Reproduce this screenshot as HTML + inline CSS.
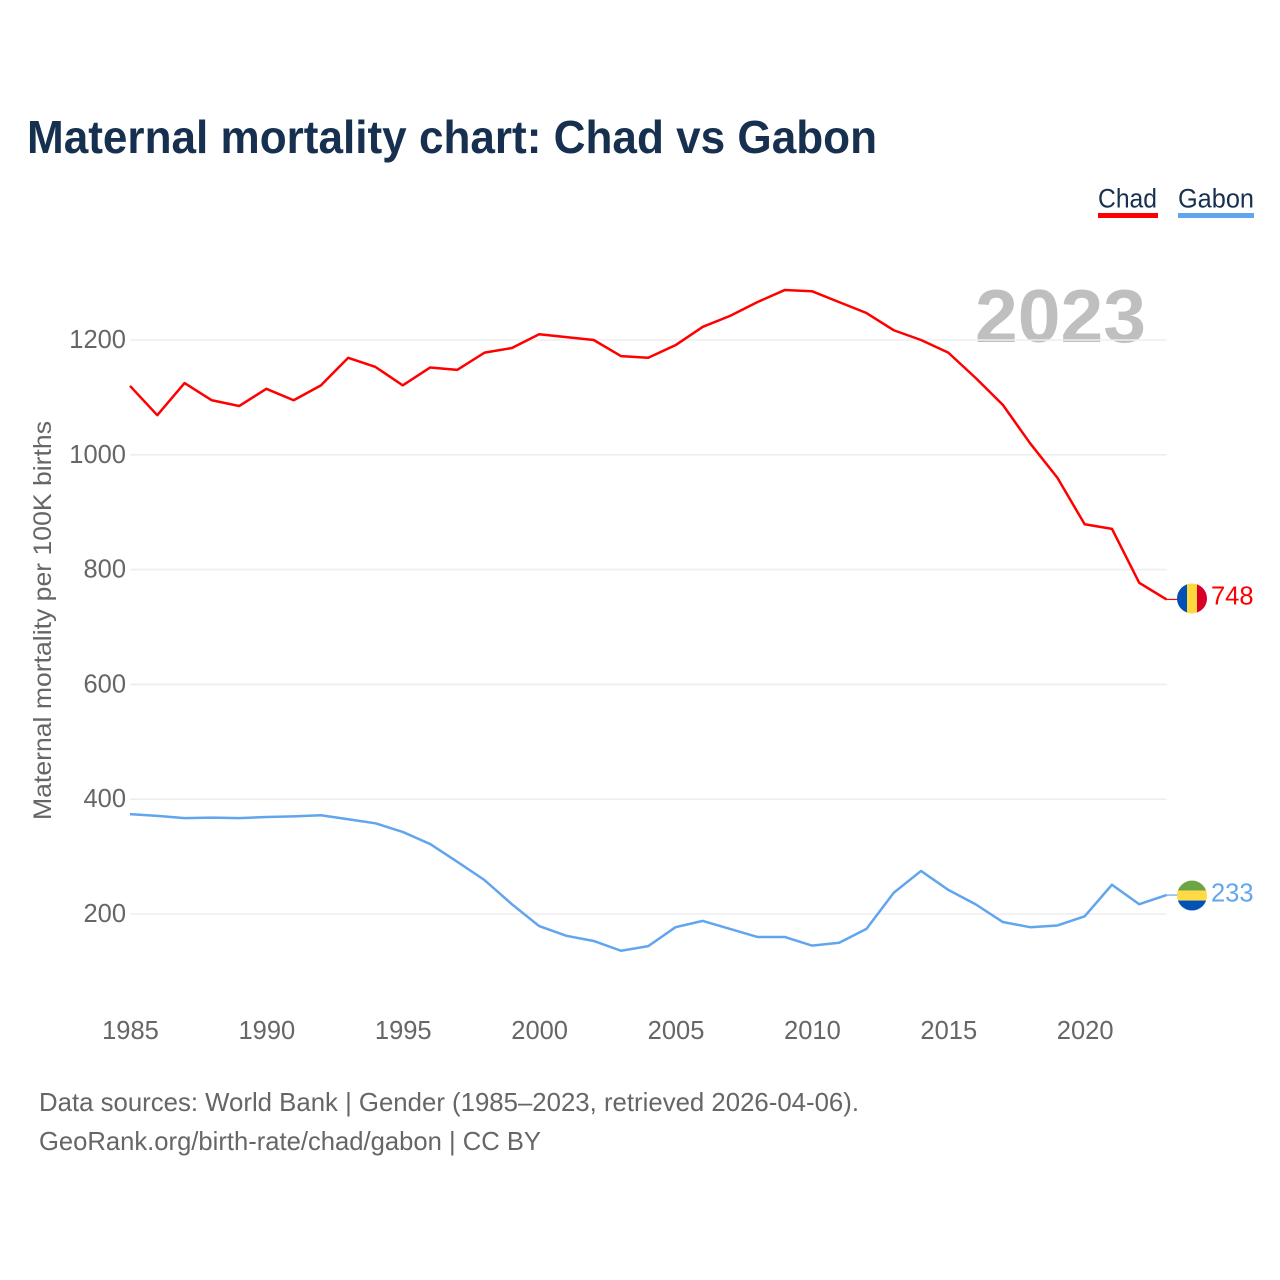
<!DOCTYPE html>
<html lang="en">
<head>
<meta charset="utf-8">
<title>Maternal mortality chart: Chad vs Gabon</title>
<style>
html,body{margin:0;padding:0;background:#fff;width:1280px;height:1280px;overflow:hidden}
svg{display:block}
text{font-family:"Liberation Sans",sans-serif}
</style>
</head>
<body>
<svg id="chart" xmlns="http://www.w3.org/2000/svg" width="1280" height="1280" viewBox="0 0 1280 1280">
  <defs>
    <clipPath id="flag-clip-chad"><circle id="clip-chad" cx="1192" cy="598" r="15"></circle></clipPath>
    <clipPath id="flag-clip-gabon"><circle id="clip-gabon" cx="1192" cy="894" r="15"></circle></clipPath>
  </defs>
  <text x="27" y="153" font-size="46" font-weight="700" fill="#17304f" textLength="850" lengthAdjust="spacingAndGlyphs">Maternal mortality chart: Chad vs Gabon</text>
  <g>
    <g>
      <text x="1098" y="207.5" font-size="27" fill="#17304f" textLength="59" lengthAdjust="spacingAndGlyphs">Chad</text>
      <rect x="1098" y="213" width="60" height="5" fill="#ff0000"></rect>
    </g>
    <g>
      <text x="1178" y="207.5" font-size="27" fill="#17304f" textLength="76" lengthAdjust="spacingAndGlyphs">Gabon</text>
      <rect x="1178" y="213" width="76" height="5" fill="#60a5ee"></rect>
    </g>
  </g>
  <text x="975" y="342" font-size="75" font-weight="700" fill="#bfbfbf" textLength="171" lengthAdjust="spacingAndGlyphs">2023</text>
  <g id="grid"></g>
  <g id="ytick"></g>
  <g id="xtick"></g>
  <text transform="translate(51,820) rotate(-90)" x="0" y="0" font-size="25" fill="#666666" textLength="399" lengthAdjust="spacingAndGlyphs">Maternal mortality per 100K births</text>
  <g id="series"></g>
  <g id="flag-chad" clip-path="url(#flag-clip-chad)">
    <rect id="fc1" x="1177" width="10" height="30" fill="#0050b5"></rect>
    <rect id="fc2" x="1187" width="10" height="30" fill="#ffd83d"></rect>
    <rect id="fc3" x="1197" width="10" height="30" fill="#d80027"></rect>
  </g>
  <g id="flag-gabon" clip-path="url(#flag-clip-gabon)">
    <rect id="fg1" x="1177" width="30" height="10" fill="#6da544"></rect>
    <rect id="fg2" x="1177" width="30" height="10" fill="#ffda44"></rect>
    <rect id="fg3" x="1177" width="30" height="10" fill="#0052b4"></rect>
  </g>
  <text id="label-chad" x="1211" font-size="25.5" fill="#ff0000">748</text>
  <text id="label-gabon" x="1211" font-size="25.5" fill="#60a5ee">233</text>
  <g>
    <text x="39" y="1111" font-size="26" fill="#666666" textLength="820" lengthAdjust="spacingAndGlyphs">Data sources: World Bank | Gender (1985–2023, retrieved 2026-04-06).</text>
    <text x="39" y="1150" font-size="26" fill="#666666" textLength="502" lengthAdjust="spacingAndGlyphs">GeoRank.org/birth-rate/chad/gabon | CC BY</text>
  </g>
</svg>
<script>
var years = [1985,1986,1987,1988,1989,1990,1991,1992,1993,1994,1995,1996,1997,1998,1999,2000,2001,2002,2003,2004,2005,2006,2007,2008,2009,2010,2011,2012,2013,2014,2015,2016,2017,2018,2019,2020,2021,2022,2023];
var chadValues = [1120,1069,1125,1095,1085,1115,1095,1121,1169,1153,1121,1152,1148,1178,1186,1210,1205,1200,1172,1169,1191,1223,1242,1266,1287,1285,1266,1247,1217,1200,1178,1134,1087,1020,960,879,871,777,748];
var gabonValues = [374,371,367,368,367,369,370,372,365,358,343,322,291,259,217,179,162,153,136,144,177,188,174,160,160,145,150,174,237,275,242,217,186,177,180,196,251,217,233];
var yTickValues = [200,400,600,800,1000,1200];
var xTickValues = [1985,1990,1995,2000,2005,2010,2015,2020];

var NS = 'http://www.w3.org/2000/svg';
function xScale(year) { return 130 + (year - 1985) * (1166.5 - 130) / (2023 - 1985); }
function yScale(value) { return 914 - (value - 200) * 0.574; }
function make(tag, attrs, parent) {
  var el = document.createElementNS(NS, tag);
  for (var k in attrs) el.setAttribute(k, attrs[k]);
  parent.appendChild(el);
  return el;
}

var gridG = document.getElementById('grid');
var yTickG = document.getElementById('ytick');
var xTickG = document.getElementById('xtick');
var seriesG = document.getElementById('series');

yTickValues.forEach(function (v) {
  var line = make('line', {x1: 130, x2: 1166.5, y1: yScale(v), y2: yScale(v), stroke: '#eeeeee', 'stroke-width': 1.6}, gridG);
  
  
  var t = make('text', {x: 126, y: yScale(v) + 8, 'text-anchor': 'end', 'font-size': 25.5, fill: '#666666'}, yTickG);
  
  
  t.textContent = String(v);
});

xTickValues.forEach(function (yr) {
  var t = make('text', {x: xScale(yr) + 0.5, y: 1039, 'text-anchor': 'middle', 'font-size': 25.5, fill: '#666666'}, xTickG);
  
  
  t.textContent = String(yr);
});

function drawSeries(values, color, name) {
  var pts = values.map(function (v, i) { return xScale(years[i]).toFixed(2) + ',' + yScale(v).toFixed(2); });
  var line = make('polyline', {points: pts.join(' '), fill: 'none', stroke: color, 'stroke-width': 2.5, 'stroke-linejoin': 'round'}, seriesG);
  
  
  var lastY = yScale(values[values.length - 1]);
  var lead = make('line', {x1: xScale(years[years.length - 1]), x2: 1178, y1: lastY, y2: lastY, stroke: color, 'stroke-width': 1.2}, seriesG);
  
  
  return lastY;
}
var chadY = drawSeries(chadValues, '#ff0000', 'chad');
var gabonY = drawSeries(gabonValues, '#60a5ee', 'gabon');

document.getElementById('clip-chad').setAttribute('cy', chadY - 1);
document.getElementById('clip-gabon').setAttribute('cy', gabonY + 0.5);
['fc1','fc2','fc3'].forEach(function (id) { document.getElementById(id).setAttribute('y', chadY - 16); });
document.getElementById('fg1').setAttribute('y', gabonY - 14.5);
document.getElementById('fg2').setAttribute('y', gabonY - 4.5);
document.getElementById('fg3').setAttribute('y', gabonY + 5.5);

var labelChad = document.getElementById('label-chad');
labelChad.setAttribute('y', chadY + 5);
labelChad.textContent = String(chadValues[chadValues.length - 1]);
var labelGabon = document.getElementById('label-gabon');
labelGabon.setAttribute('y', gabonY + 6.5);
labelGabon.textContent = String(gabonValues[gabonValues.length - 1]);
</script>
</body>
</html>
